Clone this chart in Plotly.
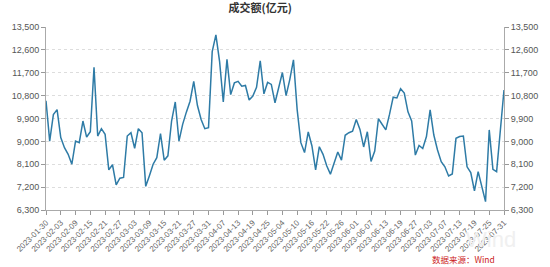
import pandas as pd
import plotly.graph_objects as go

start_date = "2023-01-30"
end_date = "2023-07-31"
holidays = ["2023-04-05", "2023-05-01", "2023-05-02", "2023-05-03", "2023-06-22", "2023-06-23"]
dates = [d.strftime("%Y-%m-%d") for d in pd.bdate_range(start_date, end_date) if d.strftime("%Y-%m-%d") not in holidays]

turnover = [
    10600, 9010, 10060, 10250, 9150, 8750, 8490, 8100, 9010, 8950,
    9800, 9170, 9380, 11910, 9210, 9500, 9280, 7880, 8080, 7290,
    7550, 7580, 9210, 9340, 8730, 9500, 9340, 7230, 7650, 8100,
    8360, 9310, 8260, 8430, 9800, 10550, 9010, 9670, 10150, 10580,
    11360, 10410, 9860, 9500, 9540, 12530, 13190, 12140, 10550, 12230,
    10840, 11300, 11360, 11170, 11200, 10630, 10780, 11130, 12170, 10870,
    11320, 11240, 10520, 11170, 11710, 10800, 11430, 12210, 10250, 8950,
    8560, 9370, 8820, 7880, 8790, 8490, 8040, 7710, 8130, 8580,
    8260, 9240, 9340, 9400, 9860, 9470, 8780, 9380, 8210, 8620,
    9890, 9670, 9450, 10060, 10740, 10710, 11070, 10900, 10160, 9800,
    8460, 8840, 8720, 9190, 10240, 9250, 8660, 8200, 8000, 7640,
    7720, 9120, 9190, 9210, 8000, 7770, 7050, 7810, 7180, 6630,
    9450, 7900, 7810, 9350, 11020,
]

y_ticks = [6300, 7200, 8100, 9000, 9900, 10800, 11700, 12600, 13500]
y_ticktext = [f"{v:,}" for v in y_ticks]
x_tickvals = dates[::4]

title_text = "成交额(亿元)"
source_text = "数据来源：Wind"

line_color = "#2e7ba6"
tick_font = dict(family="Liberation Sans, Arial", size=9, color="#555555")

fig = go.Figure()
fig.add_trace(go.Scatter(x=dates, y=turnover, mode="lines",
                         line=dict(color=line_color, width=1.5), yaxis="y", showlegend=False))
fig.add_trace(go.Scatter(x=dates, y=turnover, mode="lines", opacity=0,
                         line=dict(color=line_color, width=1), yaxis="y2",
                         showlegend=False, hoverinfo="skip"))

axis_common = dict(range=[6300, 13500], tickvals=y_ticks, ticktext=y_ticktext,
                   ticks="outside", ticklen=4, tickcolor="#999999",
                   showline=True, linecolor="#aaaaaa", linewidth=1,
                   tickfont=tick_font, zeroline=False)

fig.update_layout(
    width=550, height=267,
    margin=dict(l=37, r=38, t=27, b=57),
    paper_bgcolor="white", plot_bgcolor="white",
    title=dict(text=f"<b>{title_text}</b>", x=0.473, xanchor="center", y=0.985, yanchor="top",
               font=dict(family="Noto Sans CJK SC", size=11, color="#333333")),
    xaxis=dict(type="category", range=[0, len(dates) - 1], tickvals=x_tickvals, ticktext=x_tickvals,
               tickangle=-45, ticks="outside", ticklen=4, tickcolor="#999999",
               showline=True, linecolor="#aaaaaa", linewidth=1, showgrid=False,
               tickfont=dict(family="Liberation Sans, Arial", size=8, color="#666666")),
    yaxis=dict(side="left", showgrid=True, gridcolor="#dddddd", griddash="dot", gridwidth=1, **axis_common),
    yaxis2=dict(side="right", overlaying="y", showgrid=False, **axis_common),
)
fig.add_annotation(text="Wind", x=1.03, y=-0.16, xref="paper", yref="paper", xanchor="right", yanchor="middle",
                   showarrow=False, font=dict(family="Liberation Sans, Arial", size=22, color="#f0f0f0"))
fig.add_annotation(text=source_text, x=0.985, y=-0.268, xref="paper", yref="paper", xanchor="right", yanchor="middle",
                   showarrow=False, font=dict(family="Noto Sans CJK SC", size=8.5, color="#cc2222"))

fig.write_html("out.html")
